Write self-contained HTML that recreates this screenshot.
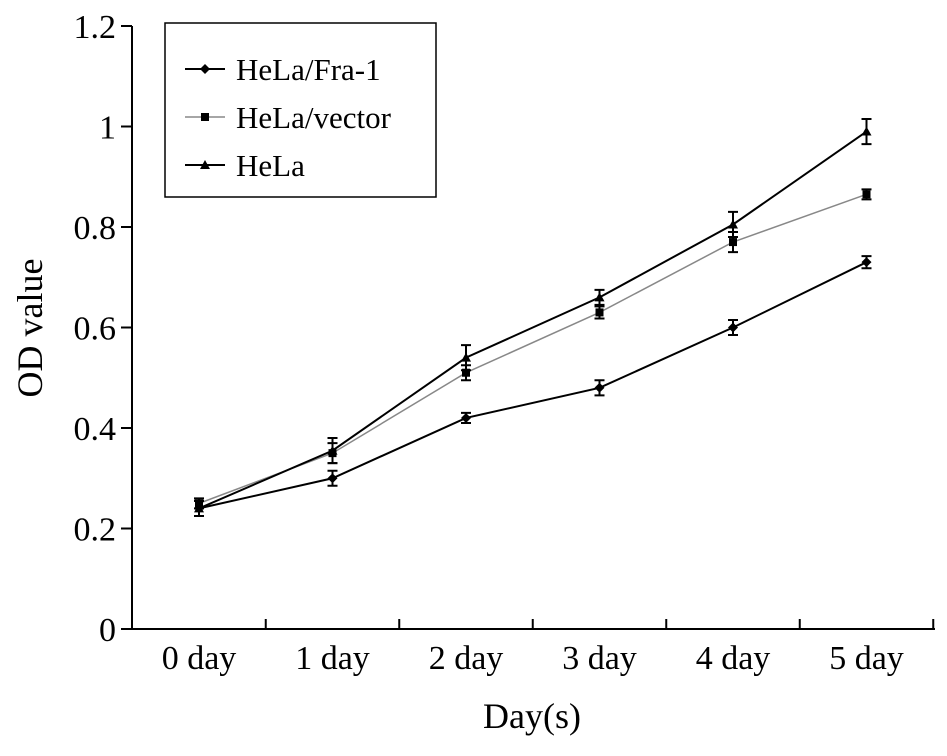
<!DOCTYPE html>
<html><head><meta charset="utf-8"><style>
body{margin:0;background:#fff;}
svg text{font-family:"Liberation Serif",serif;fill:#000;}
</style></head><body>
<svg width="947" height="751" xmlns="http://www.w3.org/2000/svg">
<g id="axes"></g><g id="series"></g>
<g>
<rect x="165" y="23" width="271" height="174" fill="#fff" stroke="#000" stroke-width="1.5"/>
<g>
<line x1="185" y1="69" x2="225" y2="69" stroke="#000" stroke-width="2"/><path d="M205 64 L210 69 L205 74 L200 69Z" fill="#000"/>
<text x="236" y="80" font-size="31">HeLa/Fra-1</text></g>
<g>
<line x1="185" y1="117" x2="225" y2="117" stroke="#888" stroke-width="1.5"/><rect x="201" y="113" width="8" height="8" fill="#000"/>
<text x="236" y="128" font-size="31">HeLa/vector</text></g>
<g>
<line x1="185" y1="165" x2="225" y2="165" stroke="#000" stroke-width="2"/><path d="M205 160 L210 169 L200 169Z" fill="#000"/>
<text x="236" y="176" font-size="31">HeLa</text></g>
</g>
<text transform="translate(42,328) rotate(-90)" text-anchor="middle" font-size="36">OD value</text>
<text x="532" y="728" text-anchor="middle" font-size="36">Day(s)</text>
</svg>
<script>
const categories=["0 day","1 day","2 day","3 day","4 day","5 day"];
const yTicks=[0,0.2,0.4,0.6,0.8,1,1.2];
const yTickLabels=["0","0.2","0.4","0.6","0.8","1","1.2"];
const fra1=[0.24,0.30,0.42,0.48,0.60,0.73];
const fra1Err=[0.015,0.015,0.01,0.015,0.015,0.012];
const vector=[0.25,0.35,0.51,0.63,0.77,0.865];
const vectorErr=[0.01,0.02,0.015,0.012,0.02,0.01];
const hela=[0.24,0.355,0.54,0.66,0.805,0.99];
const helaErr=[0.015,0.025,0.025,0.015,0.025,0.025];
const NS="http://www.w3.org/2000/svg";
const X0=132,Y0=629,STEP=133.5;
function xs(i){return 199+i*STEP;}
function ys(v){return Y0-v*502.5;}
function mk(tag,attrs,parent){const e=document.createElementNS(NS,tag);for(const k in attrs)e.setAttribute(k,attrs[k]);parent.appendChild(e);return e;}
const ax=document.getElementById('axes');
let l=mk('line',{x1:X0,y1:ys(1.2),x2:X0,y2:Y0,stroke:'#000','stroke-width':2},ax);


l=mk('line',{x1:X0,y1:Y0,x2:935,y2:Y0,stroke:'#000','stroke-width':2},ax);


yTicks.forEach((v,i)=>{
 mk('line',{x1:X0-11,y1:ys(v),x2:X0,y2:ys(v),stroke:'#000','stroke-width':2},ax);
 const t=mk('text',{x:X0-16,y:ys(v)+12,'text-anchor':'end','font-size':34},ax);t.textContent=yTickLabels[i];
 
 
});
categories.forEach((c,i)=>{
 mk('line',{x1:xs(i)+STEP/2,y1:Y0,x2:xs(i)+STEP/2,y2:Y0-10,stroke:'#000','stroke-width':2},ax);
 const t=mk('text',{x:xs(i),y:Y0+40,'text-anchor':'middle','font-size':34},ax);t.textContent=c;
 
 
});
const sg=document.getElementById('series');
function series(name,vals,errs,color,w,marker){
 const g=mk('g',{},sg);
 
 
 mk('polyline',{points:vals.map((v,i)=>xs(i)+','+ys(v)).join(' '),fill:'none',stroke:color,'stroke-width':w},g);
 vals.forEach((v,i)=>{
  const x=xs(i),y1=ys(v+errs[i]),y2=ys(v-errs[i]);
  mk('path',{d:`M${x-5} ${y1}H${x+5}M${x} ${y1}V${y2}M${x-5} ${y2}H${x+5}`,stroke:'#000','stroke-width':2,fill:'none'},g);
  const y=ys(v);let m;
  if(marker==='d')m=mk('path',{d:`M${x} ${y-5}L${x+5} ${y}L${x} ${y+5}L${x-5} ${y}Z`,fill:'#000'},g);
  else if(marker==='s')m=mk('rect',{x:x-4,y:y-4,width:8,height:8,fill:'#000'},g);
  else m=mk('path',{d:`M${x} ${y-5}L${x+5} ${y+4}L${x-5} ${y+4}Z`,fill:'#000'},g);
  
  
 });
}
series('series-hela-vector',vector,vectorErr,'#888',1.5,'s');
series('series-hela',hela,helaErr,'#000',2,'t');
series('series-hela-fra1',fra1,fra1Err,'#000',2,'d');
</script>
</body></html>
